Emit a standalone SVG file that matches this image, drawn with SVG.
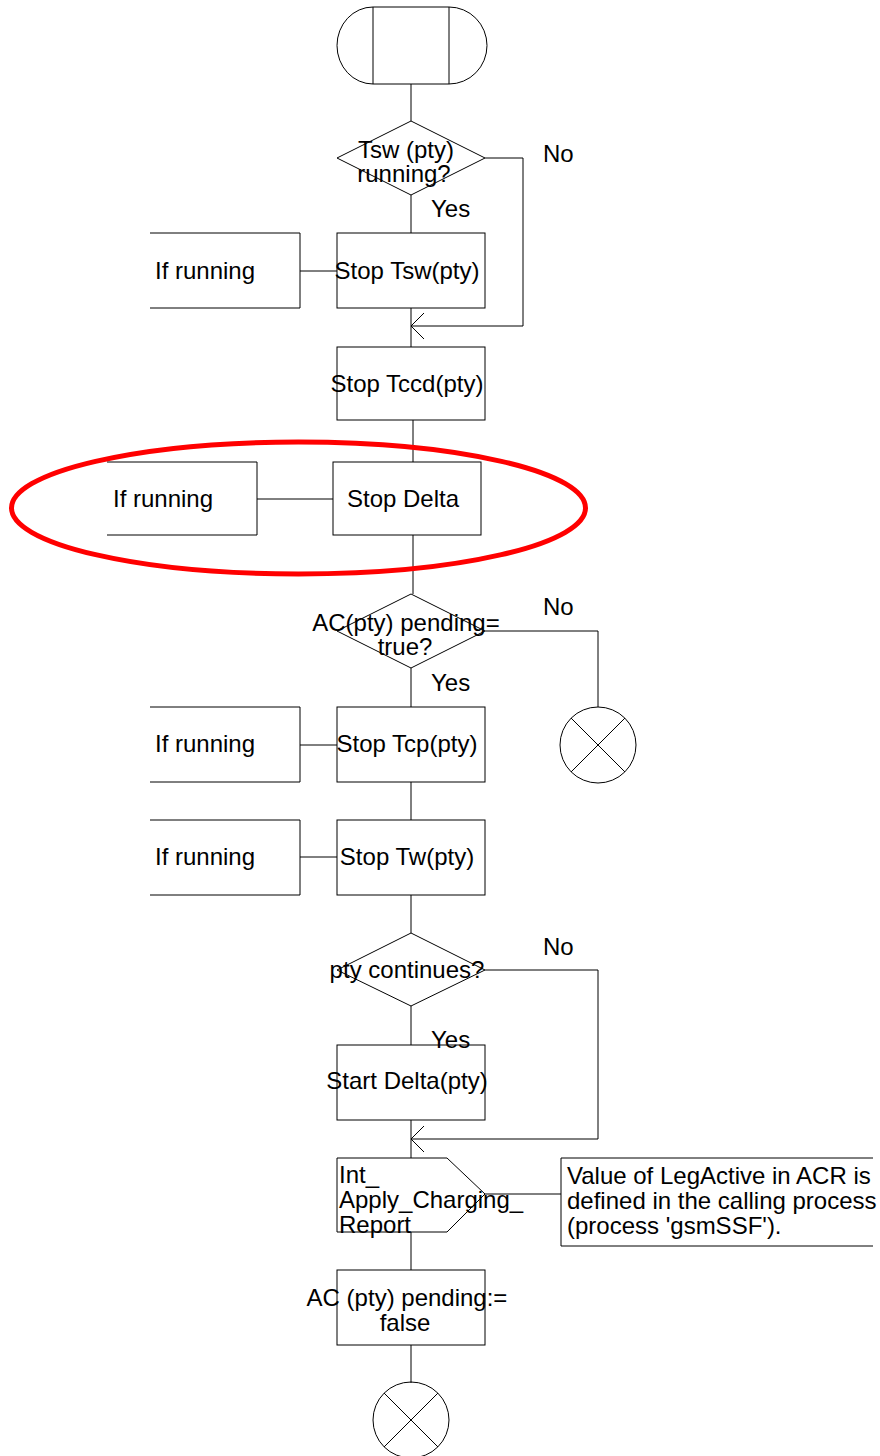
<svg xmlns="http://www.w3.org/2000/svg" width="880" height="1456" viewBox="0 0 880 1456">
  <style>
    .shape { fill: none; stroke: #000000; stroke-width: 1; }
    .open { fill: none; stroke: #000000; stroke-width: 1; }
    .line { fill: none; stroke: #000000; stroke-width: 1; }
    text { font-family: "Liberation Sans", Arial, sans-serif; font-size: 24px; fill: #000000; }
    .c { text-anchor: middle; }
  </style>
  <rect width="880" height="1456" fill="#ffffff"/>

  <!-- connectors -->
  <g id="connectors">
    <line class="line" x1="411" y1="84" x2="411" y2="121"/>
    <line class="line" x1="411" y1="195" x2="411" y2="233"/>
    <line class="line" x1="300" y1="271" x2="337" y2="271"/>
    <line class="line" x1="411" y1="308" x2="411" y2="347"/>
    <polyline class="line" points="485,158 523,158 523,326 411,326"/>
    <polyline class="line" points="424,313 411,326 424,339"/>
    <line class="line" x1="413" y1="420" x2="413" y2="462"/>
    <line class="line" x1="257" y1="499" x2="333" y2="499"/>
    <line class="line" x1="413" y1="535" x2="413" y2="594" stroke-width="1.5"/>
    <polyline class="line" points="485,631 598,631 598,707"/>
    <line class="line" x1="411" y1="668" x2="411" y2="707"/>
    <line class="line" x1="300" y1="745" x2="337" y2="745"/>
    <line class="line" x1="411" y1="782" x2="411" y2="820"/>
    <line class="line" x1="300" y1="857" x2="337" y2="857"/>
    <line class="line" x1="411" y1="895" x2="411" y2="933"/>
    <line class="line" x1="411" y1="1006" x2="411" y2="1045"/>
    <polyline class="line" points="485,970 598,970 598,1139 411,1139"/>
    <line class="line" x1="411" y1="1120" x2="411" y2="1158"/>
    <polyline class="line" points="424,1126 411,1139 424,1152"/>
    <line class="line" x1="485" y1="1194" x2="561" y2="1194"/>
    <line class="line" x1="411" y1="1232" x2="411" y2="1270"/>
    <line class="line" x1="411" y1="1345" x2="411" y2="1383"/>
  </g>

  <!-- start symbol -->
  <g id="start">
    <path class="shape" d="M373,7 L449,7 A38,38.5 0 0 1 449,84 L373,84 A36,38.5 0 0 1 373,7 Z"/>
    <line class="line" x1="373" y1="7" x2="373" y2="84"/>
    <line class="line" x1="449" y1="7" x2="449" y2="84"/>
  </g>

  <!-- decision: Tsw running -->
  <g id="dec-tsw">
    <polygon class="shape" points="411,121 485,158 411,195 337,158"/>
    <text class="c" x="406" y="158">Tsw (pty)</text>
    <text class="c" x="404" y="182">running?</text>
    <text x="543" y="162">No</text>
    <text x="431" y="217">Yes</text>
  </g>

  <g id="note-tsw">
    <polyline class="open" points="150,233 300,233 300,308 150,308"/>
    <text x="155" y="279">If running</text>
  </g>
  <g id="stop-tsw">
    <rect class="shape" x="337" y="233" width="148" height="75"/>
    <text class="c" x="407" y="279">Stop Tsw(pty)</text>
  </g>

  <g id="stop-tccd">
    <rect class="shape" x="337" y="347" width="148" height="73"/>
    <text class="c" x="407" y="392">Stop Tccd(pty)</text>
  </g>

  <g id="note-delta">
    <polyline class="open" points="107,462 257,462 257,535 107,535"/>
    <text x="113" y="507">If running</text>
  </g>
  <g id="stop-delta">
    <rect class="shape" x="333" y="462" width="148" height="73"/>
    <text class="c" x="403" y="507">Stop Delta</text>
  </g>

  <g id="highlight">
    <ellipse cx="298.5" cy="508" rx="287" ry="66" fill="none" stroke="#ff0000" stroke-width="5"/>
  </g>

  <!-- decision: AC pending -->
  <g id="dec-ac">
    <polygon class="shape" points="411,594 485,631 411,668 337,631"/>
    <text class="c" x="406" y="631">AC(pty) pending=</text>
    <text class="c" x="405" y="655">true?</text>
    <text x="543" y="615">No</text>
    <text x="431" y="691">Yes</text>
  </g>

  <g id="stop-1">
    <circle class="shape" cx="598" cy="745" r="38"/>
    <line class="line" x1="571" y1="718" x2="625" y2="772"/>
    <line class="line" x1="625" y1="718" x2="571" y2="772"/>
  </g>

  <g id="note-tcp">
    <polyline class="open" points="150,707 300,707 300,782 150,782"/>
    <text x="155" y="752">If running</text>
  </g>
  <g id="stop-tcp">
    <rect class="shape" x="337" y="707" width="148" height="75"/>
    <text class="c" x="407" y="752">Stop Tcp(pty)</text>
  </g>

  <g id="note-tw">
    <polyline class="open" points="150,820 300,820 300,895 150,895"/>
    <text x="155" y="865">If running</text>
  </g>
  <g id="stop-tw">
    <rect class="shape" x="337" y="820" width="148" height="75"/>
    <text class="c" x="407" y="865">Stop Tw(pty)</text>
  </g>

  <!-- decision: pty continues -->
  <g id="dec-cont">
    <polygon class="shape" points="411,933 485,970 411,1006 337,970"/>
    <text class="c" x="407" y="978">pty continues?</text>
    <text x="543" y="955">No</text>
    <text x="431" y="1048">Yes</text>
  </g>

  <g id="start-delta">
    <rect class="shape" x="337" y="1045" width="148" height="75"/>
    <text class="c" x="407" y="1089">Start Delta(pty)</text>
  </g>

  <!-- output signal -->
  <g id="out-acr">
    <polygon class="shape" points="337,1158 447,1158 485,1194 447,1232 337,1232"/>
    <text x="339" y="1183">Int_</text>
    <text x="339" y="1208">Apply_Charging_</text>
    <text x="339" y="1233">Report</text>
  </g>

  <g id="comment">
    <polyline class="open" points="873,1158 561,1158 561,1246 873,1246"/>
    <text x="567" y="1184">Value of LegActive in ACR is</text>
    <text x="567" y="1209">defined in the calling process</text>
    <text x="567" y="1234">(process 'gsmSSF').</text>
  </g>

  <g id="set-ac">
    <rect class="shape" x="337" y="1270" width="148" height="75"/>
    <text class="c" x="407" y="1306">AC (pty) pending:=</text>
    <text class="c" x="405" y="1331">false</text>
  </g>

  <g id="stop-2">
    <circle class="shape" cx="411" cy="1420" r="38"/>
    <line class="line" x1="384" y1="1393" x2="438" y2="1447"/>
    <line class="line" x1="438" y1="1393" x2="384" y2="1447"/>
  </g>
</svg>
